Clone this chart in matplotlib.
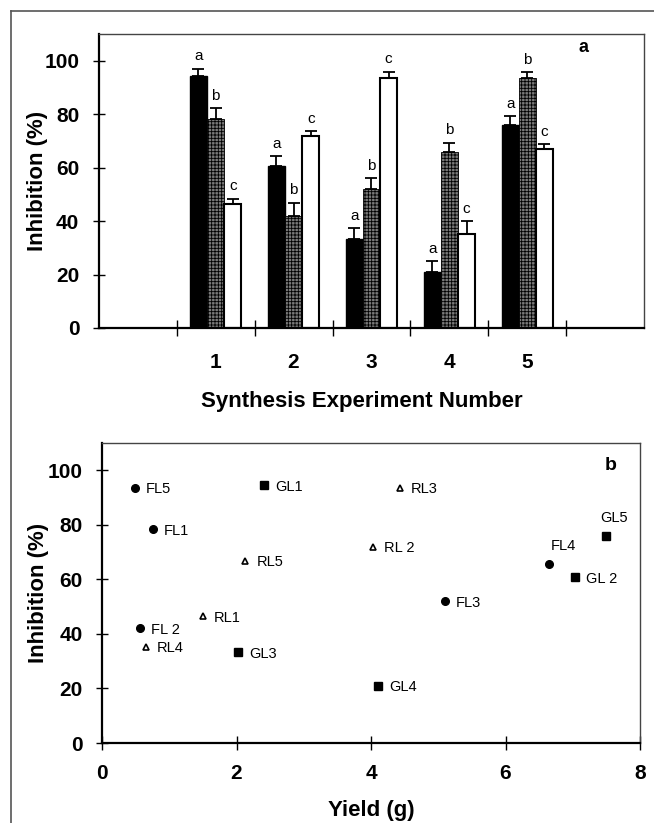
import numpy as np
import matplotlib
matplotlib.use("Agg")
import matplotlib.pyplot as plt
from matplotlib.lines import Line2D

plt.rcParams['font.family'] = ['Liberation Sans', 'DejaVu Sans']
plt.rcParams['hatch.linewidth'] = 0.6

# data
experiments = [1, 2, 3, 4, 5]
g_inhib = [94.5, 60.7, 33.2, 21.0, 76.0]   # black bars / GL
f_inhib = [78.4, 42.1, 52.0, 65.7, 93.6]   # hatched bars / FL
r_inhib = [46.4, 71.9, 93.6, 35.2, 66.9]   # white bars / RL
g_err = [2.5, 3.5, 4.1, 3.9, 3.3]
f_err = [3.9, 4.7, 4.1, 3.7, 2.1]
r_err = [2.0, 1.8, 2.4, 4.8, 1.9]

g_yield = [2.41, 7.03, 2.02, 4.10, 7.49]
f_yield = [0.76, 0.57, 5.10, 6.65, 0.49]
r_yield = [1.50, 4.03, 4.43, 0.65, 2.13]
g_names = ['GL1', 'GL 2', 'GL3', 'GL4', 'GL5']
f_names = ['FL1', 'FL 2', 'FL3', 'FL4', 'FL5']
r_names = ['RL1', 'RL 2', 'RL3', 'RL4', 'RL5']

fig = plt.figure(figsize=(6.54, 8.23), dpi=100)

# outer frame (left and top only)
fig.add_artist(Line2D([0.0168, 0.0168], [0, 0.9866], color='#555555', lw=1.2))
fig.add_artist(Line2D([0.0168, 1.0], [0.9866, 0.9866], color='#555555', lw=1.2))

# ---------------- panel a : bars ----------------
ax1 = fig.add_axes([0.151, 0.6015, 0.834, 0.357])
x = np.array(experiments)
w = 0.22
ekw = dict(ecolor='black', elinewidth=1.3, capsize=4, capthick=1.3)
ax1.bar(x - w, g_inhib, w, color='black', edgecolor='black', lw=1,
        yerr=[np.zeros(5), g_err], error_kw=ekw)
ax1.bar(x, f_inhib, w, color='#7a7a7a', edgecolor='black', hatch='+++++', lw=0.6,
        yerr=[np.zeros(5), f_err], error_kw=ekw)
ax1.bar(x + w, r_inhib, w, color='white', edgecolor='black', lw=1.5,
        yerr=[np.zeros(5), r_err], error_kw=ekw)

for vals, errs, off, letter in [(g_inhib, g_err, -w, 'a'), (f_inhib, f_err, 0, 'b'), (r_inhib, r_err, w, 'c')]:
    for xi, v, e in zip(x, vals, errs):
        ax1.annotate(letter, (xi + off, v + e), xytext=(0, 4), textcoords='offset points',
                     ha='center', va='bottom', fontsize=11)

ax1.set_xlim(-0.5, 6.5)
ax1.set_ylim(0, 110)
ax1.set_xticks(np.arange(0.5, 6.0, 1.0))
ax1.set_xticklabels([])
ax1.set_xticks(x, minor=True)
ax1.set_xticklabels([str(e) for e in experiments], minor=True, fontsize=15, fontweight='bold')
ax1.tick_params(axis='x', which='major', direction='inout', length=11, width=1)
ax1.tick_params(axis='x', which='minor', length=0, pad=18)
ax1.set_yticks([0, 20, 40, 60, 80, 100])
ax1.set_yticklabels(['0', '20', '40', '60', '80', '100'], fontsize=15, fontweight='bold')
ax1.tick_params(axis='y', direction='inout', length=8, width=1, pad=10)
ax1.set_xlabel('Synthesis Experiment Number', fontsize=16, fontweight='bold')
ax1.xaxis.set_label_coords(0.482, -0.215)
ax1.set_ylabel('Inhibition (%)', fontsize=16, fontweight='bold', labelpad=-3)
ax1.text(0.888, 0.955, 'a', transform=ax1.transAxes, fontsize=13, fontweight='bold', ha='center', va='center')
for s in ['left', 'bottom']:
    ax1.spines[s].set_linewidth(1.6)
for s in ['top', 'right']:
    ax1.spines[s].set_linewidth(1.0)
    ax1.spines[s].set_color('#444444')

# ---------------- panel b : scatter ----------------
ax2 = fig.add_axes([0.156, 0.0972, 0.8226, 0.3645])
ax2.plot(f_yield, f_inhib, 'o', color='black', ms=5.5, ls='none')
ax2.plot(g_yield, g_inhib, 's', color='black', ms=5.5, ls='none')
ax2.plot(r_yield, r_inhib, '^', mfc='white', mec='black', mew=1.2, ms=5, ls='none')

label_offsets = {'GL5': (6, 8), 'FL4': (10, 8)}
for xs, ys, names in [(f_yield, f_inhib, f_names), (g_yield, g_inhib, g_names), (r_yield, r_inhib, r_names)]:
    for xi, yi, nm in zip(xs, ys, names):
        if nm in label_offsets:
            ax2.annotate(nm, (xi, yi), xytext=label_offsets[nm], textcoords='offset points',
                         ha='center', va='bottom', fontsize=10.5)
        else:
            ax2.annotate(nm, (xi, yi), xytext=(8, -1), textcoords='offset points',
                         ha='left', va='center', fontsize=10.5)

ax2.set_xlim(0, 8)
ax2.set_ylim(0, 110)
ax2.set_xticks([0, 2, 4, 6, 8])
ax2.set_xticklabels(['0', '2', '4', '6', '8'], fontsize=15, fontweight='bold')
ax2.tick_params(axis='x', direction='inout', length=10, width=1, pad=10)
ax2.set_yticks([0, 20, 40, 60, 80, 100])
ax2.set_yticklabels(['0', '20', '40', '60', '80', '100'], fontsize=15, fontweight='bold')
ax2.tick_params(axis='y', direction='inout', length=8, width=1, pad=10)
ax2.set_xlabel('Yield (g)', fontsize=16, fontweight='bold', labelpad=12)
ax2.set_ylabel('Inhibition (%)', fontsize=16, fontweight='bold', labelpad=-1)
ax2.text(0.945, 0.925, 'b', transform=ax2.transAxes, fontsize=14, fontweight='bold', ha='center', va='center')
for s in ['left', 'bottom']:
    ax2.spines[s].set_linewidth(1.6)
for s in ['top', 'right']:
    ax2.spines[s].set_linewidth(1.0)
    ax2.spines[s].set_color('#444444')

fig.savefig('out.png', dpi=100)
